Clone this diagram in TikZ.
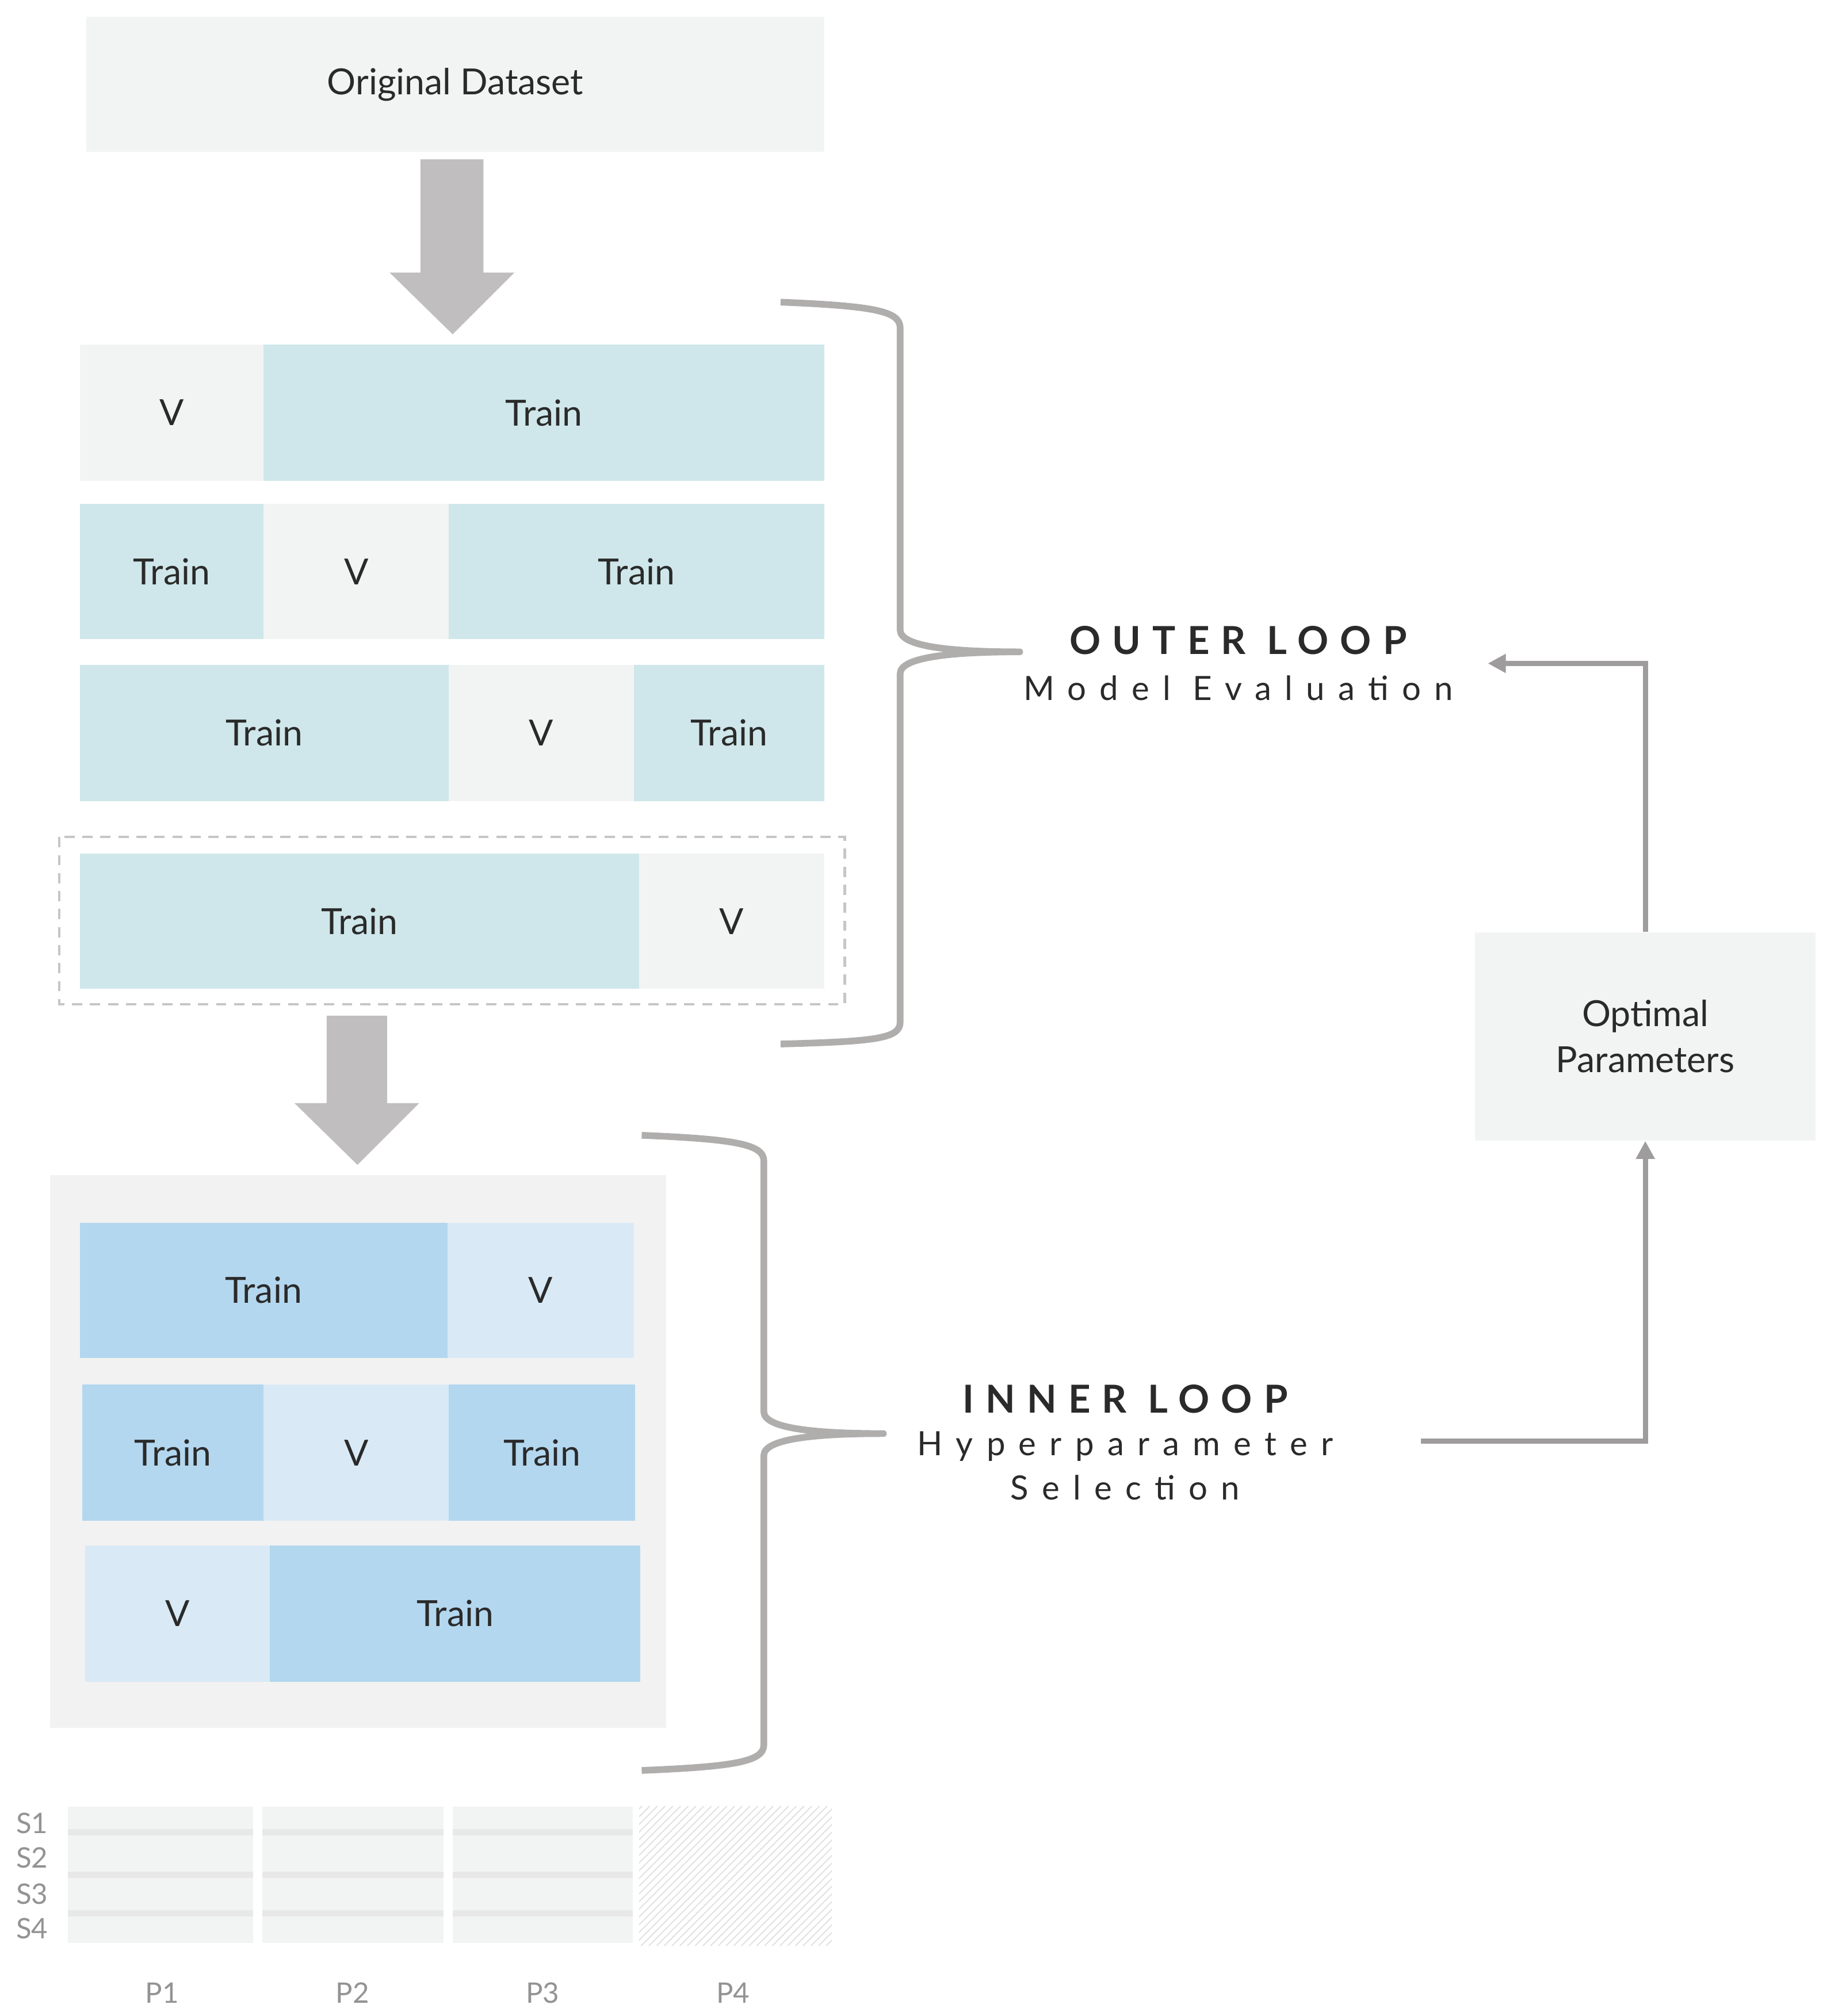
\documentclass[tikz,border=0pt]{standalone}
\usepackage{fontspec}
\setmainfont{Lato}
\usetikzlibrary{patterns,arrows.meta}
\definecolor{gbox}{HTML}{F2F4F3}
\definecolor{teal}{HTML}{CFE7EA}
\definecolor{dblue}{HTML}{B3D7EE}
\definecolor{lblue}{HTML}{D9EAF6}
\definecolor{brc}{HTML}{B0ADAD}
\definecolor{arw}{HTML}{C0BEBE}
\definecolor{txt}{HTML}{2A2A2A}
\begin{document}
\begin{tikzpicture}[x=0.5pt,y=-0.5pt,
  cell/.style={inner sep=0,outer sep=0,text=txt,font=\fontsize{14}{16}\selectfont},
  brace/.style={draw=brc,line width=2.6pt,line join=round},
  conn/.style={draw=brc!90!black,line width=2pt},
  lab/.style={text=gray!85,font=\fontsize{11}{13}\selectfont}]
\useasboundingbox (0,0) rectangle (1432,1568);
\newcommand{\cellbox}[6]{\fill[#5] (#1,#2) rectangle (#3,#4); \node[cell] at ({(#1+#3)/2},{(#2+#4)/2}) {#6};}
% Original dataset
\fill[gbox] (67,13) rectangle (641,118);
\node[cell] (orig) at (354,66) {Original Dataset};
% arrow 1
\fill[arw] (327,124) -- (376,124) -- (376,212) -- (400,212) -- (352,260) -- (303,212) -- (327,212) -- cycle;
% outer rows
\cellbox{62}{268}{205}{374}{gbox}{V}
\cellbox{205}{268}{641}{374}{teal}{Train}
\cellbox{62}{392}{205}{497}{teal}{Train}
\cellbox{205}{392}{349}{497}{gbox}{V}
\cellbox{349}{392}{641}{497}{teal}{Train}
\cellbox{62}{517}{349}{623}{teal}{Train}
\cellbox{349}{517}{493}{623}{gbox}{V}
\cellbox{493}{517}{641}{623}{teal}{Train}
\draw[gray!45,line width=1pt,dash pattern=on 4pt off 3pt] (46,651) rectangle (657,781);
\cellbox{62}{664}{497}{769}{teal}{Train}
\cellbox{497}{664}{641}{769}{gbox}{V}
% outer brace
\draw[brace] (607,235) .. controls (680,238) and (700,242) .. (700,255) -- (700,490)
  .. controls (700,503) and (740,507) .. (793,507)
  .. controls (740,507) and (700,511) .. (700,524) -- (700,795)
  .. controls (700,808) and (680,810) .. (607,812);
\node[text=txt,font=\fontsize{15}{17}\selectfont\bfseries\addfontfeature{LetterSpace=30}] (outer) at (963,498) {OUTER LOOP};
\node[text=txt,font=\fontsize{13}{15}\selectfont\addfontfeature{LetterSpace=40}] (outersub) at (963,535) {Model Evaluation};
% arrow 2
\fill[arw] (254,790) -- (301,790) -- (301,858) -- (326,858) -- (278,906) -- (229,858) -- (254,858) -- cycle;
% inner box
\fill[gray!10] (39,914) rectangle (518,1344);
\cellbox{62}{951}{348}{1056}{dblue}{Train}
\cellbox{348}{951}{493}{1056}{lblue}{V}
\cellbox{64}{1077}{205}{1183}{dblue}{Train}
\cellbox{205}{1077}{349}{1183}{lblue}{V}
\cellbox{349}{1077}{494}{1183}{dblue}{Train}
\cellbox{66}{1202}{210}{1308}{lblue}{V}
\cellbox{210}{1202}{498}{1308}{dblue}{Train}
% inner brace
\draw[brace] (499,883) .. controls (572,886) and (594,890) .. (594,903) -- (594,1098)
  .. controls (594,1111) and (634,1115) .. (687,1115)
  .. controls (634,1115) and (594,1119) .. (594,1132) -- (594,1357)
  .. controls (594,1370) and (572,1374) .. (499,1377);
\node[text=txt,font=\fontsize{15}{17}\selectfont\bfseries\addfontfeature{LetterSpace=30}] (inner) at (875,1088) {INNER LOOP};
\node[text=txt,font=\fontsize{13}{15}\selectfont\addfontfeature{LetterSpace=40}] (innersub) at (875,1125) {Hyperparameter};
\node[text=txt,font=\fontsize{13}{15}\selectfont\addfontfeature{LetterSpace=40}] (innersub2) at (875,1157) {Selection};
% optimal parameters
\node[fill=gbox,minimum width=132.5pt,minimum height=81pt,inner sep=0,text=txt,align=center,
  font=\fontsize{14}{18}\selectfont] (opt) at (1279.5,806) {Optimal\\Parameters};
\coordinate (c1) at (1105,1121);
\coordinate (c2) at (1157,516);
\draw[conn,-{Triangle[length=7pt,width=7pt]}] (c1) -| (opt.south);
\draw[conn,-{Triangle[length=7pt,width=7pt]}] (opt.north) |- (c2);
% bottom grid
\foreach \a/\b in {53/197,204/345,352/492}{
  \fill[gbox] (\a,1405) rectangle (\b,1511);
  \foreach \y in {1425,1458,1488}{\fill[gray!18] (\a,\y-2.5) rectangle (\b,\y+2.5);}
}
\fill[pattern=north east lines,pattern color=gray!25] (497,1405) rectangle (647,1513);
\foreach \t/\y in {S1/1418,S2/1445,S3/1473,S4/1500}{\node[lab] at (25,\y) {\t};}
\foreach \t/\x in {P1/126,P2/274,P3/422,P4/570}{\node[lab] at (\x,1550) {\t};}
\end{tikzpicture}
\end{document}
